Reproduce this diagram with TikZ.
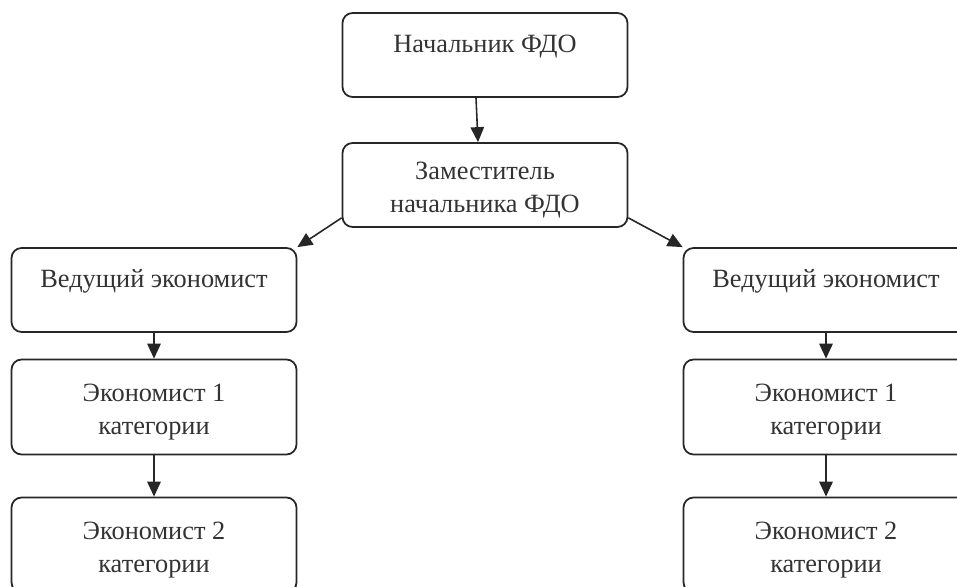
\documentclass[tikz,border=0pt]{standalone}
\usepackage{fontspec}
\setmainfont{Liberation Serif}
\usetikzlibrary{arrows.meta}

\begin{document}
\begin{tikzpicture}
[x=0.02cm,y=-0.02cm,
every node/.style={rectangle,rounded corners=0.2cm,draw=black!85,line width=1pt,
  minimum width=5.7cm,align=center,text=black!80,font=\fontsize{15}{18.5}\selectfont},
one/.style={minimum height=1.68cm,text depth=0.45cm},
two/.style={minimum height=1.9cm,text height=34pt},
arr/.style={-{Triangle[length=0.3cm,width=0.27cm]},line width=0.9pt,black!85}]
\useasboundingbox (0,0) rectangle (957,587);
\node[one](top) at (485,55) {Начальник ФДО};
\node[two,minimum height=1.68cm](dep) at (485,185) {Заместитель\\начальника ФДО};
\draw[arr] ([xshift=-0.18cm]top.south) to ([xshift=-0.14cm]dep.north);
\foreach \s/\x in {L/154,R/826}
{
  \node[one](\s1) at (\x,290) {Ведущий экономист};
  \node[two](\s2) at (\x,407) {Экономист 1\\категории};
  \node[two](\s3) at (\x,545) {Экономист 2\\категории};
  \draw[arr] (\s1) to (\s2);
  \draw[arr] (\s2) to (\s3);
}
\draw[arr] ([yshift=0.2cm]dep.south west) to (L1.north east);
\draw[arr] ([yshift=0.2cm]dep.south east) to (R1.north west);
\end{tikzpicture}
\end{document}
